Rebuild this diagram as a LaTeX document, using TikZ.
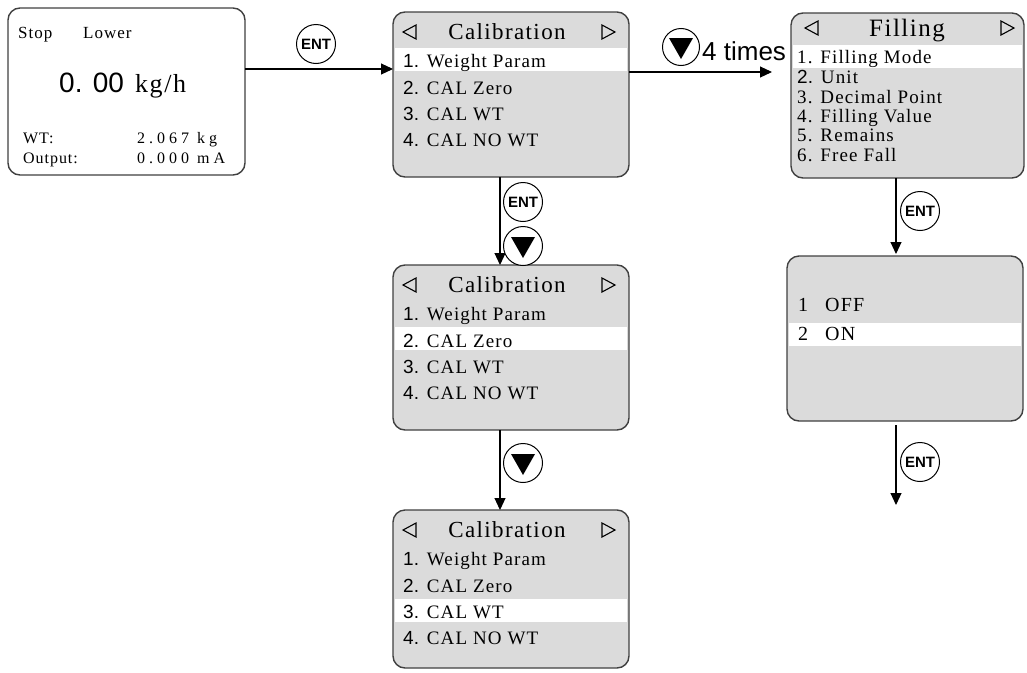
\documentclass[tikz,border=0pt]{standalone}
\usepackage{fontspec}
\setmainfont{Liberation Serif}
\setsansfont{Liberation Sans}
\newfontfamily\lsp[LetterSpace=6]{Liberation Serif}
\newfontfamily\wsp[LetterSpace=25]{Liberation Serif}
\usetikzlibrary{arrows.meta}
\newcommand\fsz[1]{\fontsize{#1}{#1}\selectfont}
\newcommand\calbox[4]{%
  \node[scr, anchor=north west, minimum width=236pt, minimum height=#3pt] (#1) at (393,#2) {};
  \fill[white] (394.7,{#2+36+(#4-1)*26.4}) rectangle (627.3,{#2+59+(#4-1)*26.4});
  \draw[tri] (403,{#2+20}) -- (416,{#2+13}) -- (416,{#2+27}) -- cycle;
  \draw[tri] (615,{#2+20}) -- (602,{#2+13}) -- (602,{#2+27}) -- cycle;
  \node[txt, anchor=base] (#1t) at (507,{#2+27}) {\lsp\fsz{23}Calibration};
  \node[txt] (#1ra) at (403,{#2+55}) {\lsp\fsz{19}{\sffamily 1.} Weight Param};
  \node[txt] (#1rb) at (403,{#2+82}) {\lsp\fsz{19}{\sffamily 2.} CAL Zero};
  \node[txt] (#1rc) at (403,{#2+108}) {\lsp\fsz{19}{\sffamily 3.} CAL WT};
  \node[txt] (#1rd) at (403,{#2+134}) {\lsp\fsz{19}{\sffamily 4.} CAL NO WT};
}
\begin{document}
\begin{tikzpicture}[x=1pt,y=-1pt,
  scr/.style={draw=black!75, line width=1.4pt, rounded corners=12pt, fill=gray!28, inner sep=0pt, outer sep=0pt},
  arr/.style={line width=1.1pt, -{Triangle[length=12pt,width=11pt]}},
  key/.style={circle, draw, line width=1pt, minimum size=39pt, inner sep=0pt, fill=white, font=\sffamily\bfseries\fsz{15}},
  dnkey/.style={key, path picture={\fill[black] (path picture bounding box.center) ++(-12,-9) -- ++(24,0) -- ++(-12,21) -- cycle;}},
  tri/.style={line width=1.1pt, draw, line join=miter},
  txt/.style={anchor=base west, inner sep=0pt},
]
\useasboundingbox (0,0) rectangle (1027,672);

% home screen
\node[scr, fill=white, anchor=north west, minimum width=237pt, minimum height=167pt] (A) at (8,8) {};
\node[txt] (a1) at (18,38) {\lsp\fsz{17}Stop};
\node[txt] (a2) at (83,38) {\lsp\fsz{17}Lower};
\node[txt] (a3) at (59,92) {\sffamily\fsz{28}0. 00};
\node[txt] (a4) at (135,92) {\lsp\fsz{26}kg/h};
\node[txt] (a5) at (23,143) {\lsp\fsz{16}WT:};
\node[txt] (a6) at (137,143) {\wsp\fsz{16}2.067 kg};
\node[txt] (a7) at (23,163) {\lsp\fsz{16}Output:};
\node[txt] (a8) at (137,163) {\wsp\fsz{16}0.000 mA};

% calibration screens
\calbox{B}{12}{165}{1}
\calbox{D}{265}{165}{2}
\calbox{E}{510}{158}{3}

% filling screen
\node[scr, anchor=north west, minimum width=233pt, minimum height=165pt] (C) at (791,13) {};
\fill[white] (792.7,45) rectangle (1022.3,68);
\draw[tri] (805,28) -- (818,21) -- (818,35) -- cycle;
\draw[tri] (1014,28) -- (1001,21) -- (1001,35) -- cycle;
\node[txt, anchor=base] (Ct) at (907,36) {\lsp\fsz{25}Filling};
\node[txt] (Cr1) at (797,63) {\lsp\fsz{19}1. Filling Mode};
\node[txt] (Cr2) at (797,83) {\lsp\fsz{19}{\sffamily 2.} Unit};
\node[txt] (Cr3) at (797,103) {\lsp\fsz{19}3. Decimal Point};
\node[txt] (Cr4) at (797,122) {\lsp\fsz{19}4. Filling Value};
\node[txt] (Cr5) at (797,141) {\lsp\fsz{19}5. Remains};
\node[txt] (Cr6) at (797,161) {\lsp\fsz{19}6. Free Fall};

% on/off screen
\node[scr, anchor=north west, minimum width=236pt, minimum height=165pt] (F) at (787,256) {};
\fill[white] (788.7,323) rectangle (1021.3,346);
\node[txt] (F1n) at (798,311) {\fsz{20}1};
\node[txt] (F1t) at (825,311) {\lsp\fsz{20}OFF};
\node[txt] (F2n) at (798,340) {\fsz{20}2};
\node[txt] (F2t) at (825,340) {\lsp\fsz{20}ON};

% connectors
\draw[arr] (A.east |- 0,69) -- (B.west |- 0,69);
\node[key] (k1) at (316,44) {ENT};

\draw[arr, shorten >=19pt] (B.east |- 0,72) -- (C.west |- 0,72);
\node[dnkey, minimum size=37pt] (k2) at (681,47) {};
\node[txt] (t4) at (702,60) {\sffamily\fsz{26}4 times};

\draw[arr] (B.south -| 500,0) -- (D.north -| 500,0);
\node[key] (k3) at (523,202) {ENT};
\node[dnkey] (k4) at (523,246) {};

\draw[arr] (D.south -| 500,0) -- (E.north -| 500,0);
\node[dnkey] (k5) at (523,463) {};

\draw[arr, shorten >=2pt] (C.south -| 896,0) -- (F.north -| 896,0);
\node[key] (k6) at (920,211) {ENT};

\coordinate (Fend) at (896,505);
\draw[arr, shorten <=4pt] (F.south -| 896,0) -- (Fend);
\node[key] (k7) at (920,462) {ENT};
\end{tikzpicture}
\end{document}
